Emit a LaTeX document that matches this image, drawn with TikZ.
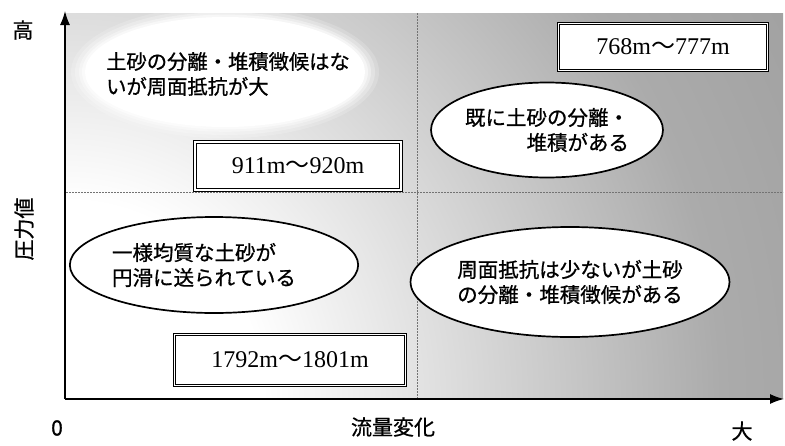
\documentclass[tikz,border=0pt]{standalone}
\usepackage{fontspec}
\setmainfont{Liberation Serif}
\newfontfamily\jp[FakeBold=0.8]{Noto Sans CJK JP}
\newfontfamily\jpwave{Noto Sans CJK JP}
\usetikzlibrary{arrows.meta,shapes.geometric}
\pgfdeclareradialshading{bgshade}{\pgfpoint{0bp}{0bp}}{color(0bp)=(white); color(6bp)=(white); color(20bp)=(black!33); color(50bp)=(black!55)}
\begin{document}
\begin{tikzpicture}[x=1pt,y=-1pt,
  bubble/.style={ellipse, draw=black, line width=1.7pt, fill=white, inner sep=0pt,
     font=\jp\fontsize{20.5}{25}\selectfont, align=left},
  rangebox/.style={draw=black, double=white, double distance=1.8pt, line width=0.9pt,
     fill=white, inner sep=0pt, font=\fontsize{24}{26}\selectfont},
  axislbl/.style={font=\jp\fontsize{21}{24}\selectfont, inner sep=0pt},
  guide/.style={draw=black!55, dash pattern=on 2pt off 1pt, line width=0.7pt},
  axis/.style={line width=1.4pt, -{Latex[length=14pt,width=10pt]}}]
\useasboundingbox (0,0) rectangle (785,445);
% shaded field
\begin{scope}
  \clip (66,13) rectangle (783,398);
  \shade[shading=bgshade] (66,398) circle (820);
\end{scope}
% guides
\coordinate (hL) at (66,192);
\coordinate (hR) at (783,192);
\coordinate (vT) at (417,13);
\coordinate (vB) at (417,398);
\draw[guide] (hL) -- (hR);
\draw[guide] (vT) -- (vB);
% fuzzy white blob (top-left)
\foreach \d/\o in {14/0.18,10/0.25,6/0.35,3/0.5}{
  \fill[white, opacity=\o] (225,72) ellipse [x radius=140+\d, y radius=55+\d*0.8];
}
\fill[white] (225,72) ellipse [x radius=140, y radius=55];
\node[font=\jp\fontsize{20.3}{25}\selectfont, align=left, inner sep=0pt] (blob) at (228,74)
  {土砂の分離・堆積徴候はな\\いが周面抵抗が大};
% axes
\coordinate (O) at (65,399);
\coordinate (ytip) at (65,11);
\coordinate (xtip) at (784,399);
\draw[axis] (O) -- (ytip);
\draw[axis] (O) -- (xtip);
% range boxes
\node[rangebox, minimum width=206pt, minimum height=48pt] (b911) at (298,166)
  {911m{\jpwave ～}920m};
\node[rangebox, minimum width=209pt, minimum height=47pt] (b768) at (663,47)
  {768m{\jpwave ～}777m};
\node[rangebox, minimum width=231pt, minimum height=51pt] (b1792) at (290,360)
  {1792m{\jpwave ～}1801m};
% bubbles
\node[bubble, align=right, minimum width=229pt, minimum height=95pt] (e1) at (547,130)
  {既に土砂の分離・\\堆積がある};
\node[bubble, minimum width=255pt, minimum height=96pt] (e2) at (214,265)
  {一様均質な土砂が\\円滑に送られている\hspace*{20pt}};
\node[bubble, minimum width=280pt, minimum height=110pt] (e3) at (570,282)
  {周面抵抗は少ないが土砂\\の分離・堆積徴候がある};
% axis labels
\node[axislbl] (hi) at (23,30) {高};
\node[axislbl, rotate=90] (ylbl) at (24,229) {圧力値};
\node[axislbl] (zero) at (57,428) {0};
\node[axislbl] (xlbl) at (393,427) {流量変化};
\node[axislbl] (big) at (742,431) {大};
\end{tikzpicture}
\end{document}
